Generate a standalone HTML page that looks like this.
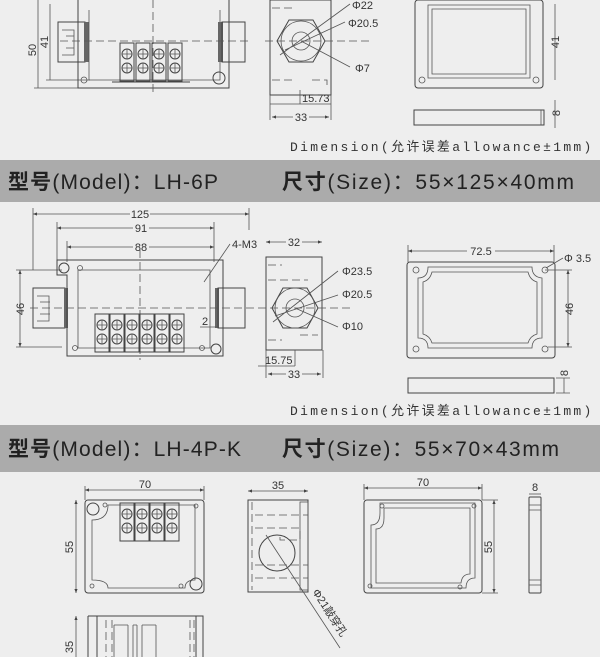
<!DOCTYPE html>
<html><head><meta charset="utf-8"><style>
html,body{margin:0;padding:0;background:#eeeeee;}
svg{display:block}
text{font-family:"Liberation Sans","Noto Sans CJK SC",sans-serif;fill:#333}
.d{stroke:#555;stroke-width:0.8;fill:none}
.t{stroke:#444;stroke-width:1;fill:none}
.dash{stroke:#555;stroke-width:0.8;fill:none;stroke-dasharray:8 4}
.s{font-size:11px}
.dim{font-size:13px;letter-spacing:2.3px;font-family:"Liberation Mono","Noto Sans CJK SC",monospace}
.bar{font-size:21px;fill:#222}
</style></head><body>
<svg width="600" height="657" viewBox="0 0 600 657" xmlns="http://www.w3.org/2000/svg">
<rect width="600" height="657" fill="#eeeeee"/>
<defs>
<marker id="a" markerWidth="6" markerHeight="6" refX="5" refY="3" orient="auto-start-reverse"><path d="M0,1 L5,3 L0,5z" fill="#444"/></marker>
<g id="term"><rect x="0" y="0" width="14" height="38" class="t"/><circle cx="7" cy="11" r="5" class="t"/><circle cx="7" cy="25" r="5" class="t"/><path d="M2,11h10M7,6v10M2,25h10M7,20v10" class="d"/></g>
</defs>

<!-- ===== Section 1 ===== -->
<line x1="38" y1="0" x2="38" y2="88" class="d"/><line x1="50" y1="4" x2="50" y2="80" class="d"/>
<line x1="34" y1="88" x2="90" y2="88" class="d"/><line x1="46" y1="80" x2="90" y2="80" class="d"/>
<text class="s" transform="translate(36,50) rotate(-90)" text-anchor="middle">50</text>
<text class="s" transform="translate(48,42) rotate(-90)" text-anchor="middle">41</text>
<rect x="58" y="22" width="27" height="40" class="t"/><path d="M62,30h12v25h-12M66,36h8M66,48h8" class="d"/>
<rect x="84" y="22" width="5" height="40" fill="#666"/>
<path d="M78,0 V88 H229 V0" class="t"/><path d="M89,10 V80 H220 V10" class="d"/>
<circle cx="84" cy="80" r="3" class="d"/><circle cx="219" cy="78" r="6" class="t"/>
<rect x="218" y="22" width="5" height="40" fill="#666"/>
<rect x="222" y="22" width="23" height="40" class="t"/>
<line x1="60" y1="41" x2="250" y2="41" class="dash"/><line x1="153" y1="0" x2="153" y2="95" class="dash"/>
<use href="#term" x="120" y="43"/><use href="#term" x="136" y="43"/><use href="#term" x="152" y="43"/><use href="#term" x="168" y="43"/>
<line x1="112" y1="82" x2="190" y2="82" class="t"/>

<rect x="270" y="0" width="61" height="95" class="t"/>
<path d="M272,8h20M272,80h20M312,80h15v8" class="dash"/>
<polygon points="277,41 289,20 313,20 325,41 313,62 289,62" class="t"/>
<circle cx="301" cy="41" r="20" class="d"/><circle cx="301" cy="41" r="9" class="d"/>
<line x1="265" y1="41" x2="372" y2="41" class="dash"/>
<path d="M280,55 L350,4 M285,50 L345,22 M301,41 L350,67" class="d"/>
<text class="s" x="352" y="9">Φ22</text><text class="s" x="348" y="27">Φ20.5</text><text class="s" x="355" y="72">Φ7</text>
<line x1="300" y1="90" x2="300" y2="104" class="d"/><line x1="331" y1="95" x2="331" y2="120" class="d"/><line x1="270" y1="95" x2="270" y2="120" class="d"/>
<line x1="270" y1="104" x2="331" y2="104" class="d"/><text class="s" x="302" y="102">15.73</text>
<line x1="272" y1="117" x2="329" y2="117" class="d" marker-start="url(#a)" marker-end="url(#a)"/>
<rect x="293" y="110" width="16" height="12" fill="#eee"/><text class="s" x="301" y="121" text-anchor="middle">33</text>

<rect x="415" y="0" width="128" height="88" rx="3" class="t"/>
<path d="M428,5 H530 V78 H428 Z" class="d"/><path d="M432,9 H526 V74 H432 Z" class="d"/>
<circle cx="422" cy="80" r="3" class="d"/><circle cx="536" cy="80" r="3" class="d"/>
<line x1="555" y1="4" x2="555" y2="80" class="d"/><text class="s" transform="translate(559,42) rotate(-90)" text-anchor="middle">41</text>
<rect x="414" y="110" width="130" height="15" class="t"/><line x1="541" y1="110" x2="541" y2="125" class="d"/>
<line x1="555" y1="100" x2="555" y2="128" class="d"/><text class="s" transform="translate(560,113) rotate(-90)" text-anchor="middle">8</text>
<text class="dim" x="290" y="151">Dimension(允许误差allowance±1mm)</text>

<rect x="0" y="160" width="600" height="42" fill="#ababab"/>
<text class="bar" x="8" y="189" textLength="210" lengthAdjust="spacing"><tspan font-weight="bold">型号</tspan>(Model)：LH-6P</text>
<text class="bar" x="282" y="189" textLength="292" lengthAdjust="spacing"><tspan font-weight="bold">尺寸</tspan>(Size)：55×125×40mm</text>

<!-- ===== Section 2 ===== -->
<line x1="33" y1="214" x2="249" y2="214" class="d" marker-start="url(#a)" marker-end="url(#a)"/>
<rect x="130" y="206" width="20" height="12" fill="#eee"/><text class="s" x="140" y="218" text-anchor="middle">125</text>
<line x1="57" y1="228" x2="214" y2="228" class="d" marker-start="url(#a)" marker-end="url(#a)"/>
<rect x="133" y="220" width="16" height="12" fill="#eee"/><text class="s" x="141" y="232" text-anchor="middle">91</text>
<line x1="67" y1="247" x2="214" y2="247" class="d" marker-start="url(#a)" marker-end="url(#a)"/>
<rect x="133" y="239" width="16" height="12" fill="#eee"/><text class="s" x="141" y="251" text-anchor="middle">88</text>
<path d="M33,208V270 M57,222V262 M67,241V262 M214,222V262 M249,208V230" class="d"/>
<text class="s" x="232" y="248">4-M3</text><line x1="230" y1="244" x2="204" y2="282" class="d"/>
<line x1="20" y1="270" x2="20" y2="347" class="d" marker-start="url(#a)" marker-end="url(#a)"/>
<path d="M16,270H62 M16,347H62" class="d"/>
<text class="s" transform="translate(24,309) rotate(-90)" text-anchor="middle">46</text>
<rect x="33" y="288" width="32" height="40" class="t"/><path d="M37,296h12v25h-12M40,302h10M40,314h10" class="d"/>
<rect x="64" y="288" width="4" height="40" fill="#666"/>
<path d="M57,260 H223 V356 H67 V275 H57 Z" class="t"/>
<path d="M78,270 H210 V348 H78 Z" class="d"/>
<circle cx="64" cy="268" r="5" class="t"/><circle cx="80" cy="268" r="2.5" class="d"/>
<circle cx="216" cy="349" r="5" class="t"/><circle cx="75" cy="348" r="2.5" class="d"/><circle cx="202" cy="348" r="2.5" class="d"/>
<rect x="215" y="288" width="4" height="40" fill="#666"/>
<rect x="218" y="288" width="27" height="40" class="t"/>
<line x1="30" y1="308" x2="255" y2="308" class="dash"/><line x1="140" y1="250" x2="140" y2="360" class="dash"/>
<use href="#term" x="95" y="314"/><use href="#term" x="110" y="314"/><use href="#term" x="125" y="314"/><use href="#term" x="140" y="314"/><use href="#term" x="155" y="314"/><use href="#term" x="170" y="314"/>
<line x1="200" y1="327" x2="218" y2="327" class="d"/><text class="s" x="202" y="325">2</text>

<line x1="266" y1="242" x2="322" y2="242" class="d" marker-start="url(#a)" marker-end="url(#a)"/>
<rect x="286" y="235" width="16" height="12" fill="#eee"/><text class="s" x="294" y="246" text-anchor="middle">32</text>
<rect x="266" y="257" width="56" height="93" class="t"/>
<path d="M268,265h14M268,280h40M300,335h18M268,340h14" class="dash"/>
<polygon points="272,308 283,288 307,288 318,308 307,328 283,328" class="t"/>
<circle cx="295" cy="308" r="20" class="d"/><circle cx="295" cy="308" r="9" class="d"/>
<line x1="258" y1="308" x2="350" y2="308" class="dash"/>
<path d="M273,322 L338,271 M275,316 L338,295 M295,308 L338,327" class="d"/>
<text class="s" x="342" y="275">Φ23.5</text><text class="s" x="342" y="298">Φ20.5</text><text class="s" x="342" y="330">Φ10</text>
<path d="M295,350V366 M266,350V378 M323,350V378" class="d"/>
<line x1="258" y1="366" x2="295" y2="366" class="d"/><text class="s" x="265" y="364">15.75</text>
<line x1="268" y1="374" x2="321" y2="374" class="d" marker-start="url(#a)" marker-end="url(#a)"/>
<rect x="286" y="368" width="16" height="12" fill="#eee"/><text class="s" x="294" y="378" text-anchor="middle">33</text>

<line x1="408" y1="251" x2="554" y2="251" class="d" marker-start="url(#a)" marker-end="url(#a)"/>
<rect x="467" y="244" width="28" height="12" fill="#eee"/><text class="s" x="481" y="255" text-anchor="middle">72.5</text>
<path d="M408,245V262 M554,245V262" class="d"/>
<rect x="407" y="262" width="148" height="96" rx="3" class="t"/>
<path d="M428,267 H532 Q532,277 542,278 V338 Q532,338 532,348 H428 Q428,338 418,338 V278 Q428,278 428,267 Z" class="d"/>
<path d="M432,272 H528 Q530,280 537,282 V334 Q530,336 528,343 H432 Q430,336 423,334 V282 Q430,280 432,272 Z" class="d"/>
<circle cx="416" cy="270" r="3" class="d"/><circle cx="545" cy="270" r="3" class="d"/><circle cx="416" cy="349" r="3" class="d"/><circle cx="545" cy="349" r="3" class="d"/>
<text class="s" x="564" y="262">Φ 3.5</text><line x1="563" y1="258" x2="546" y2="268" class="d"/>
<line x1="568" y1="270" x2="568" y2="347" class="d" marker-start="url(#a)" marker-end="url(#a)"/>
<path d="M545,270H572 M548,347H572" class="d"/>
<text class="s" transform="translate(573,309) rotate(-90)" text-anchor="middle">46</text>
<rect x="408" y="378" width="146" height="15" class="t"/>
<line x1="564" y1="378" x2="564" y2="393" class="d"/><path d="M556,378H570 M556,393H570" class="d"/>
<text class="s" transform="translate(568,373) rotate(-90)" text-anchor="middle">8</text>
<text class="dim" x="290" y="415">Dimension(允许误差allowance±1mm)</text>

<rect x="0" y="425" width="600" height="47" fill="#ababab"/>
<text class="bar" x="8" y="456" textLength="233" lengthAdjust="spacing"><tspan font-weight="bold">型号</tspan>(Model)：LH-4P-K</text>
<text class="bar" x="282" y="456" textLength="277" lengthAdjust="spacing"><tspan font-weight="bold">尺寸</tspan>(Size)：55×70×43mm</text>

<!-- ===== Section 3 ===== -->
<line x1="85" y1="490" x2="204" y2="490" class="d" marker-start="url(#a)" marker-end="url(#a)"/>
<text class="s" x="145" y="488" text-anchor="middle">70</text>
<path d="M85,486V500 M204,486V500" class="d"/>
<line x1="76" y1="500" x2="76" y2="593" class="d" marker-start="url(#a)" marker-end="url(#a)"/>
<text class="s" transform="translate(73,547) rotate(-90)" text-anchor="middle">55</text>
<rect x="85" y="500" width="119" height="93" rx="3" class="t"/>
<path d="M115,505 H195 V580 Q185,580 185,588 H108 Q108,580 92,580 V520 Q108,520 108,505 Z" class="d"/>
<circle cx="93" cy="509" r="6" class="t"/><circle cx="105" cy="505" r="2" class="d"/><circle cx="196" cy="584" r="6" class="t"/><circle cx="92" cy="586" r="2" class="d"/><circle cx="181" cy="586" r="2" class="d"/><circle cx="196" cy="506" r="2" class="d"/>
<use href="#term" x="120" y="503"/><use href="#term" x="135" y="503"/><use href="#term" x="150" y="503"/><use href="#term" x="165" y="503"/>

<line x1="248" y1="491" x2="308" y2="491" class="d" marker-start="url(#a)" marker-end="url(#a)"/>
<text class="s" x="278" y="489" text-anchor="middle">35</text>
<rect x="248" y="500" width="60" height="92" class="t"/>
<path d="M252,502V590 M255,515H308 M255,528H300 V540 H280 V533 M255,578H308 M255,565H308" class="dash"/>
<rect x="300" y="502" width="8" height="88" class="d"/>
<circle cx="277" cy="553" r="18" class="t"/>
<line x1="266" y1="535" x2="340" y2="648" class="d"/>
<text class="s" transform="translate(312,592) rotate(57)">Φ21敲穿孔</text>

<line x1="364" y1="488" x2="482" y2="488" class="d" marker-start="url(#a)" marker-end="url(#a)"/>
<text class="s" x="423" y="486" text-anchor="middle">70</text>
<path d="M364,484V500 M482,484V500" class="d"/>
<rect x="364" y="500" width="118" height="93" rx="3" class="t"/>
<path d="M380,503 H475 V578 Q466,578 466,588 H371 V525 Q380,525 380,513 Z" class="d"/>
<path d="M384,508 H470 V574 Q462,574 461,583 H376 V529 Q384,529 384,518 Z" class="d"/>
<circle cx="382" cy="506" r="2" class="d"/><circle cx="474" cy="506" r="2" class="d"/><circle cx="370" cy="586" r="2" class="d"/><circle cx="460" cy="587" r="2" class="d"/>
<line x1="494" y1="500" x2="494" y2="593" class="d" marker-start="url(#a)" marker-end="url(#a)"/>
<path d="M482,500H498 M482,593H498" class="d"/>
<text class="s" transform="translate(492,547) rotate(-90)" text-anchor="middle">55</text>
<rect x="529" y="497" width="12" height="96" rx="1" class="t"/><path d="M529,505H541 M529,510H541 M529,580H541 M529,585H541" class="d"/>
<line x1="529" y1="494" x2="541" y2="494" class="d"/><text class="s" x="535" y="491" text-anchor="middle">8</text>

<line x1="76" y1="616" x2="76" y2="657" class="d" marker-start="url(#a)"/>
<text class="s" transform="translate(73,647) rotate(-90)" text-anchor="middle">35</text>
<path d="M88,616 H203 V657 M88,616 V657 M97,616V657 M196,616V657" class="t"/>
<path d="M106,620V657 M190,620V657 M194,620V657 M112,620V657" class="dash"/>
<path d="M114,625V657 M128,625V657 M114,625H128 M133,625V657 M137,625V657 M133,625H137 M142,625V657 M156,625V657 M142,625H156" class="d"/>
</svg>
</body></html>
